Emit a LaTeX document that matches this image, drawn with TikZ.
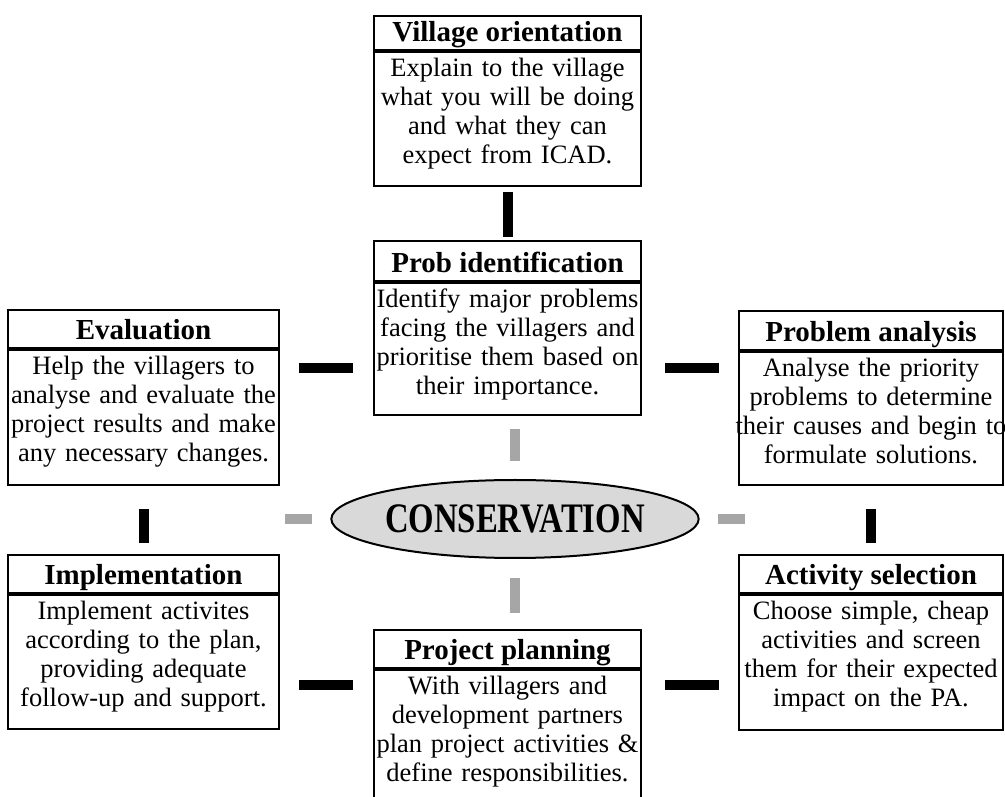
\documentclass[tikz,border=0pt]{standalone}
\usepackage{fontspec}
\setmainfont{Liberation Serif}
\newfontfamily\consfont[FakeStretch=0.78]{Liberation Serif}
\usetikzlibrary{shapes.geometric}
\definecolor{barGray}{RGB}{166,166,166}
\definecolor{ellGray}{RGB}{217,217,217}
\newcommand\rowline[1]{\makebox[\linewidth]{#1}}
\tikzset{
  ttl/.style={draw, line width=2pt, anchor=north, inner xsep=1pt, inner ysep=0pt,
    font=\fontsize{29}{30}\selectfont\bfseries, text depth=8pt},
  bdy/.style={draw, line width=2pt, anchor=north, inner xsep=1pt, inner ysep=0pt,
    align=center, font=\fontsize{26.5}{29}\selectfont, text height=25pt},
  blackbar/.style={line width=10pt, black},
  graybar/.style={line width=10pt, barGray},
}
\begin{document}
\begin{tikzpicture}[x=1pt,y=1pt]
\useasboundingbox (0,0) rectangle (1005,796);
\fill[white] (0,0) rectangle (1005,796);

% Village orientation
\node[ttl, minimum width=267pt, text height=26pt] (vot) at (507.5,781) {Village orientation};
\node[bdy, text width=265pt, text depth=109pt] (vob) at (vot.south)
  {\rowline{Explain to the village}\\\rowline{what you will be doing}\\\rowline{and what they can}\\\rowline{expect from ICAD.}};

% Prob identification
\node[ttl, minimum width=267pt, text height=32pt] (pit) at (507.5,556) {Prob identification};
\node[bdy, text width=265pt, text depth=107pt] (pib) at (pit.south)
  {\rowline{Identify major problems}\\\rowline{facing the villagers and}\\\rowline{prioritise them based on}\\\rowline{their importance.}};

% Evaluation
\node[ttl, minimum width=271pt, text height=30pt] (evt) at (143.5,487) {Evaluation};
\node[bdy, text width=269pt, text depth=110pt] (evb) at (evt.south)
  {\rowline{Help the villagers to}\\\rowline{analyse and evaluate the}\\\rowline{project results and make}\\\rowline{any necessary changes.}};

% Problem analysis
\node[ttl, minimum width=264pt, text height=31pt] (pat) at (871,486) {Problem analysis};
\node[bdy, text width=262pt, text depth=108pt] (pab) at (pat.south)
  {\rowline{Analyse the priority}\\\rowline{problems to determine}\\\rowline{their causes and begin to}\\\rowline{formulate solutions.}};

% Implementation
\node[ttl, minimum width=271pt, text height=30pt] (imt) at (143.5,242) {Implementation};
\node[bdy, text width=269pt, text depth=109pt] (imb) at (imt.south)
  {\rowline{Implement activites}\\\rowline{according to the plan,}\\\rowline{providing adequate}\\\rowline{follow-up and support.}};

% Activity selection
\node[ttl, minimum width=264pt, text height=30pt] (ast) at (871,242) {Activity selection};
\node[bdy, text width=262pt, text depth=110pt] (asb) at (ast.south)
  {\rowline{Choose simple, cheap}\\\rowline{activities and screen}\\\rowline{them for their expected}\\\rowline{impact on the PA.}};

% Project planning
\node[ttl, minimum width=267pt, text height=30pt] (ppt) at (507.5,167) {Project planning};
\node[bdy, text width=265pt, text depth=107pt] (ppb) at (ppt.south)
  {\rowline{With villagers and}\\\rowline{development partners}\\\rowline{plan project activities \&}\\\rowline{define responsibilities.}};

% Centre
\node[ellipse, draw, line width=2pt, fill=ellGray, minimum width=310pt, minimum height=78pt, inner sep=0pt,
  font=\consfont\bfseries\fontsize{42}{42}\selectfont] (cons) at (515,277) {CONSERVATION};

\coordinate (yu) at (0,427.5);
\coordinate (yl) at (0,111);
\coordinate (gl) at (285,277);
\coordinate (gr) at (745,277);

% black connectors
\draw[blackbar, shorten <=5pt, shorten >=3pt] (vob.south) -- (pit.north);
\draw[blackbar, shorten <=19pt, shorten >=20pt] (evb.east |- yu) -- (pib.west |- yu);
\draw[blackbar, shorten <=23pt, shorten >=19pt] (pib.east |- yu) -- (pab.west |- yu);
\draw[blackbar, shorten <=23pt, shorten >=11pt] (evb.south) -- (imt.north);
\draw[blackbar, shorten <=23pt, shorten >=11pt] (pab.south) -- (ast.north);
\draw[blackbar, shorten <=19pt, shorten >=20pt] (imb.east |- yl) -- (ppb.west |- yl);
\draw[blackbar, shorten <=23pt, shorten >=19pt] (ppb.east |- yl) -- (asb.west |- yl);

% grey connectors
\draw[graybar, shorten <=18pt, shorten >=13pt] (cons.north) -- (cons.north |- pib.south);
\draw[graybar, shorten <=19pt, shorten >=16pt] (cons.south) -- (cons.south |- ppt.north);
\draw[graybar, shorten <=18pt] (cons.west) -- (gl);
\draw[graybar, shorten <=18pt] (cons.east) -- (gr);
\end{tikzpicture}
\end{document}
